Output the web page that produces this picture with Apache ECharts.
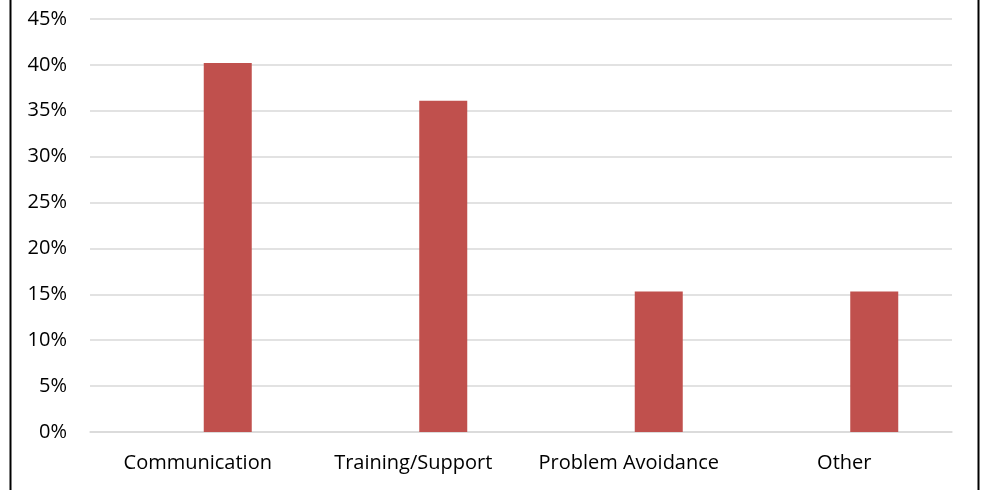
<!DOCTYPE html>
<html><head><meta charset="utf-8">
<script src="https://cdn.jsdelivr.net/npm/echarts@6/dist/echarts.min.js"></script>
<style>html,body{margin:0;padding:0;background:#fff}#c{width:984px;height:490px}</style>
</head><body><div id="c"></div>
<script>
const categories = ['Communication', 'Training/Support', 'Problem Avoidance', 'Other'];
const emptySeries = ['-', '-', '-', '-'];
const values = [40.2, 36.1, 15.3, 15.3];
const yTicks = [0, 5, 10, 15, 20, 25, 30, 35, 40, 45];

const chart = echarts.init(document.getElementById('c'), null, {renderer: 'canvas'});
chart.setOption({
  animation: false,
  backgroundColor: '#fff',
  graphic: [{
    type: 'rect', left: 8, top: -10, shape: {width: 968, height: 520},
    style: {fill: 'none', stroke: '#000', lineWidth: 2}, silent: true
  }],
  grid: {left: 90, right: 32, top: 19, bottom: 58, containLabel: false},
  xAxis: {
    type: 'category', data: categories,
    axisLine: {show: true, lineStyle: {color: '#d9d9d9', width: 1.5}},
    axisTick: {show: false},
    axisLabel: {color: '#000', fontFamily: 'Open Sans', fontSize: 20, margin: 21,
      interval: 0, hideOverlap: false}
  },
  yAxis: {
    type: 'value', min: yTicks[0], max: yTicks[yTicks.length - 1], interval: 5,
    axisLine: {show: false}, axisTick: {show: false},
    splitLine: {lineStyle: {color: '#d9d9d9', width: 1.5}},
    axisLabel: {color: '#000', fontFamily: 'Open Sans', fontSize: 20, margin: 23,
      formatter: v => v + '%'}
  },
  series: [
    {type: 'bar', data: emptySeries, barWidth: 48, barGap: '25%', barCategoryGap: '50%',
     itemStyle: {color: '#4f81bd'}},
    {type: 'bar', data: values, barWidth: 48, barGap: '25%', barCategoryGap: '50%',
     itemStyle: {color: '#c0504d'}}
  ]
});
</script></body></html>
